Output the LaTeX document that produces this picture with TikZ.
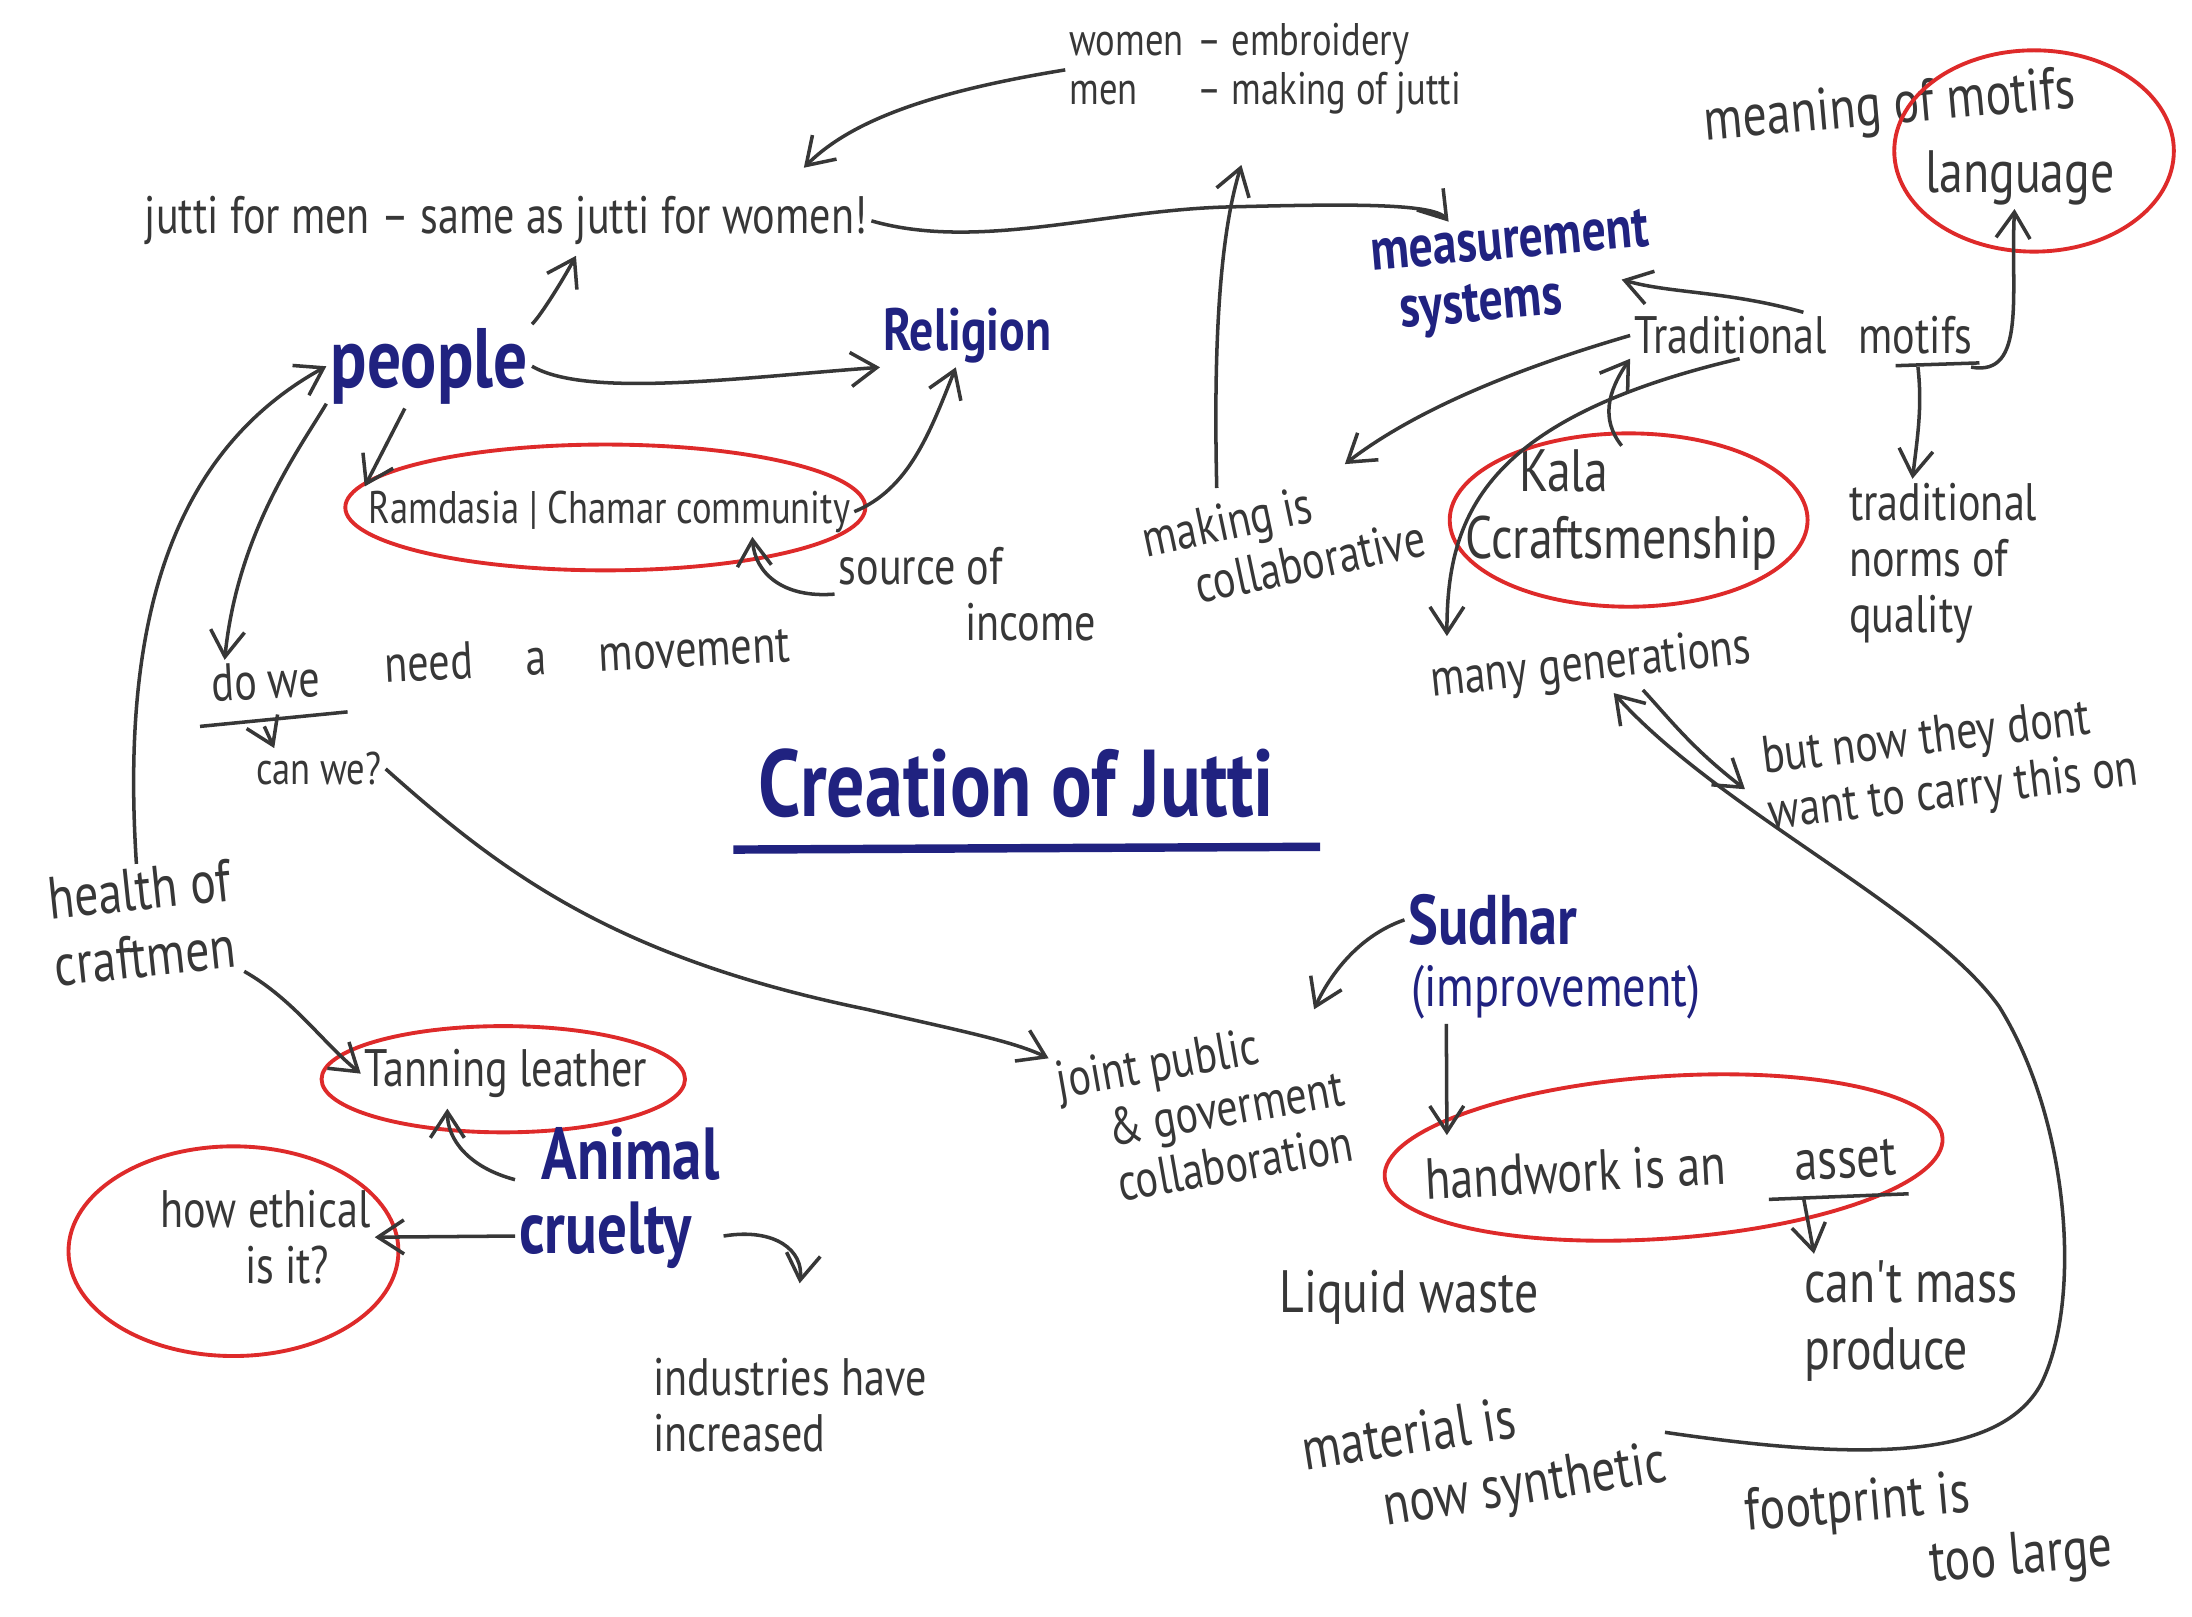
\documentclass[tikz,border=0pt]{standalone}
\usepackage{fontspec}
\setmainfont{PT Sans}
\newfontfamily\handfont[FakeStretch=0.8]{PT Sans}
\usetikzlibrary{arrows.meta}

\definecolor{ink}{RGB}{55,55,55}
\definecolor{penblue}{RGB}{32,34,128}
\definecolor{ringred}{RGB}{222,42,42}

\tikzset{
  note/.style={text=ink, font=\handfont\fontsize{15}{16}\selectfont, align=left, inner sep=1pt},
  smallnote/.style={note, font=\handfont\fontsize{13}{14}\selectfont},
  bignote/.style={note, font=\handfont\fontsize{17}{19}\selectfont},
  topic/.style={text=penblue, font=\handfont\bfseries\fontsize{#1}{#1}\selectfont, align=left, inner sep=1pt},
  topic/.default=20,
  ring/.style={draw=ringred, line width=1.1pt},
  link/.style={draw=ink, line width=1pt, -{Straight Barb[length=2.6mm,width=3.4mm]}},
  pen/.style={draw=ink, line width=1pt},
}

\begin{document}
\begin{tikzpicture}[x=0.01398cm, y=-0.01398cm]
\useasboundingbox (0,0) rectangle (1568,1156);

% title
\node[topic=27] (title) at (727,560) {Creation of Jutti};
\draw[penblue, line width=2.4pt] ([shift={(-15,20)}]title.south west) -- ([shift={(30,18)}]title.south east);

% upper left
\node[smallnote] (wm) at (905,50) {\begin{tabular}{@{}l@{\hspace{4pt}}l@{}}women & – embroidery\\ men & – making of jutti\end{tabular}};
\node[note] (jutti) at (362,158) {jutti for men – same as jutti for women!};
\node[topic=24] (people) at (307,262) {people};
\node[topic=17] (religion) at (692,240) {Religion};
\node[smallnote] (ramdasia) at (436,366) {Ramdasia | Chamar community};
\draw[ring] (433,363) ellipse [x radius=186, y radius=45];
\node[note] (income) at (692,425) {source of\\\hspace{2.4em}income};
\node[note, rotate=3] (dowe) at (190,487) {do we};
\node[note, rotate=3] (movement) at (420,468) {need\hspace{1em}a\hspace{1em}movement};
\node[smallnote] (canwe) at (228,550) {can we?};

% upper right
\node[topic=17, rotate=5] (meas) at (1082,197) {measurement\\\hspace{0.4em}systems};
\node[note] (trad) at (1290,240) {Traditional\hspace{0.6em}motifs};
\node[bignote, rotate=5] (meaning) at (1352,78) {meaning of motifs};
\node[bignote] (language) at (1445,127) {language};
\draw[ring] (1455,108) ellipse [x radius=100, y radius=72];
\node[note, rotate=12] (making) at (918,385) {making is\\\hspace{0.8em}collaborative};
\node[bignote] (kala) at (1160,365) {\hspace{0.9em}Kala\\Ccraftsmenship};
\draw[ring] (1165,372) ellipse [x radius=128, y radius=62];
\node[note] (norms) at (1390,403) {traditional\\norms of\\quality};
\node[note, rotate=6] (gens) at (1138,477) {many generations};
\node[note, rotate=7] (butnow) at (1395,548) {but now they dont\\want to carry this on};

% lower left
\node[bignote, rotate=6] (health) at (102,660) {health of\\craftmen};
\node[note] (tanning) at (362,768) {Tanning leather};
\draw[ring] (360,772) ellipse [x radius=130, y radius=38];
\node[topic=21] (animal) at (443,857) {\hspace{0.3em}Animal\\cruelty};
\node[note] (ethical) at (190,885) {how ethical\\\hspace{1.6em}is it?};
\draw[ring] (167,895) ellipse [x radius=118, y radius=75];
\node[note] (industries) at (565,1005) {industries have\\increased};

% lower right
\node[note, rotate=10] (joint) at (862,795) {joint public\\\hspace{0.8em}\& goverment\\\hspace{0.8em}collaboration};
\node[topic=20] (sudhar) at (1068,658) {Sudhar};
\node[note, text=penblue, font=\handfont\fontsize{16.5}{18}\selectfont] (improve) at (1113,710) {(improvement)};
\node[note, rotate=3, font=\handfont\fontsize{16.5}{18}\selectfont] (hand) at (1188,835) {handwork is an\hspace{1.2em}asset};
\draw[ring, rotate around={4:(1190,828)}] (1190,828) ellipse [x radius=200, y radius=58];
\node[bignote] (mass) at (1367,945) {can't mass\\produce};
\node[bignote] (liquid) at (1008,928) {Liquid waste};
\node[bignote, rotate=9] (material) at (1062,1045) {material is\\\hspace{1.2em}now synthetic};
\node[bignote, rotate=5] (footprint) at (1380,1097) {footprint is\\\hspace{3em}too large};

% free arrow ends
\coordinate (jw) at (575,120);
\coordinate (js) at (412,183);
\coordinate (mup) at (888,118);
\coordinate (ms) at (1160,200);
\coordinate (mk) at (962,332);
\coordinate (gn) at (1035,455);
\coordinate (tb) at (320,793);
\coordinate (ib) at (572,918);
\coordinate (jn) at (940,722);
\coordinate (hw) at (1035,812);

% connectors
\draw[link] (wm.west) .. controls (670,65) and (610,85) .. (jw);
\draw[link] (jutti.east) .. controls (700,180) and (790,150) .. (880,148) .. controls (960,146) and (1025,145) .. (meas.135);
\draw[link] (people.north east) .. controls (385,228) and (400,205) .. (js);
\draw[link] (people.east) .. controls (420,285) and (530,270) .. (religion.200);
\draw[link] (people.240) -- (ramdasia.north west);
\draw[link] (people.200) .. controls (215,320) and (170,380) .. (dowe.150);
\draw[link] (health.north) .. controls (88,470) and (110,330) .. (people.west);
\draw[link] (ramdasia.east) .. controls (650,350) and (665,310) .. (religion.250);
\draw[link] (income.west) .. controls (560,428) and (540,410) .. (ramdasia.-10);
\draw[pen] ([shift={(-6,14)}]dowe.south west) -- ([shift={(16,8)}]dowe.south east);
\draw[link] ([shift={(40,14)}]dowe.south west) -- ([shift={(16,0)}]canwe.north west);
\draw[link] (canwe.east) .. controls (360,625) and (440,685) .. (620,722) .. controls (690,738) and (725,745) .. (joint.north west);
\draw[link] (health.south east) .. controls (210,715) and (230,745) .. (tanning.west);
\draw[link] (animal.170) .. controls (335,835) and (320,815) .. (tb);
\draw[link] (animal.200) -- (ethical.east);
\draw[link] (animal.-20) .. controls (555,878) and (575,895) .. (ib);
\draw[link] ([shift={(-40,0)}]making.north) .. controls (868,250) and (872,170) .. (mup);
\draw[link] (trad.north) .. controls (1235,208) and (1195,210) .. (ms);
\draw[link] (trad.west) .. controls (1080,265) and (1010,295) .. (mk);
\draw[link] (trad.200) .. controls (1060,300) and (1035,370) .. (gn);
\draw[link] (kala.north) .. controls (1145,300) and (1150,280) .. (trad.south west);
\draw[pen] ([shift={(-58,5)}]trad.south east) -- ([shift={(2,3)}]trad.south east);
\draw[link] ([shift={(-42,6)}]trad.south east) .. controls (1375,290) and (1372,310) .. (norms.110);
\draw[link] ([shift={(-4,6)}]trad.south east) .. controls (1450,270) and (1438,210) .. (language.-100);
\draw[link] (gens.-30) .. controls (1195,515) and (1210,535) .. ([shift={(-12,0)}]butnow.west);
\draw[link] (material.east) .. controls (1330,1045) and (1430,1045) .. (1460,990) .. controls (1490,930) and (1480,800) .. (1430,720) .. controls (1380,650) and (1230,580) .. (gens.-55);
\draw[link] (sudhar.west) .. controls (970,670) and (950,700) .. (jn);
\draw[link] ([shift={(28,0)}]improve.south west) -- (hw);
\draw[pen] ([shift={(-95,14)}]hand.south east) -- ([shift={(5,10)}]hand.south east);
\draw[link] ([shift={(-70,14)}]hand.south east) -- ([shift={(10,-2)}]mass.north west);
\end{tikzpicture}
\end{document}
